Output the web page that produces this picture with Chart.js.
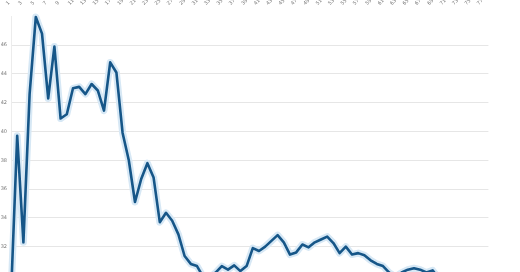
<!DOCTYPE html>
<html>
<head>
<meta charset="utf-8">
<script src="https://cdn.jsdelivr.net/npm/chart.js@4/dist/chart.umd.min.js"></script>
<style>
    html, body { margin: 0; padding: 0; background: #ffffff; overflow: hidden; }
    #wrap { width: 520px; height: 272px; overflow: hidden; }
</style>
</head>
<body>
<div id="wrap"><canvas id="line-chart" width="520" height="340"></canvas></div>
<script>
const labels = [
    '1', '2', '3', '4', '5', '6', '7', '8', '9', '10',
    '11', '12', '13', '14', '15', '16', '17', '18', '19', '20',
    '21', '22', '23', '24', '25', '26', '27', '28', '29', '30',
    '31', '32', '33', '34', '35', '36', '37', '38', '39', '40',
    '41', '42', '43', '44', '45', '46', '47', '48', '49', '50',
    '51', '52', '53', '54', '55', '56', '57', '58', '59', '60',
    '61', '62', '63', '64', '65', '66', '67', '68', '69', '70',
    '71', '72', '73', '74', '75', '76', '77', '78',
];

const values = [
    28.6, 39.7, 32.3, 42.6, 47.95, 46.8, 42.3, 45.9, 40.9, 41.2,
    43.0, 43.1, 42.6, 43.3, 42.85, 41.45, 44.8, 44.1, 39.9, 38.0,
    35.1, 36.7, 37.8, 36.8, 33.7, 34.35, 33.8, 32.85, 31.35, 30.8,
    30.65, 29.9, 29.8, 30.2, 30.65, 30.4, 30.7, 30.3, 30.65, 31.9,
    31.7, 32.0, 32.4, 32.8, 32.3, 31.45, 31.6, 32.15, 31.95, 32.3,
    32.5, 32.7, 32.25, 31.55, 32.0, 31.45, 31.55, 31.4, 31.05, 30.8,
    30.65, 30.2, 29.9, 30.2, 30.4, 30.5, 30.4, 30.2, 30.35, 29.8,
    29.5, 29.3, 29.6, 29.2, 29.0, 28.8, 29.1, 28.7,
];

const yTicks = { min: 26, max: 47.99, step: 2 };

const LINE_COLOR = '#165688';
const HALO_COLOR = '#d7e8f5';
const GRID_COLOR = '#e6e6e6';
const TICK_COLOR = '#777777';

function buildChart() {
    const ctx = document.getElementById('line-chart').getContext('2d');
    return new Chart(ctx, {
        type: 'line',
        data: {
            labels,
            datasets: [
                {
                    label: 'value',
                    data: values,
                    order: 1,
                    borderColor: LINE_COLOR,
                    borderWidth: 2.6,
                    borderJoinStyle: 'round',
                    tension: 0,
                    pointRadius: 0,
                    clip: false,
                },
                {
                    label: 'halo',
                    data: values,
                    order: 2,
                    borderColor: HALO_COLOR,
                    borderWidth: 7,
                    borderJoinStyle: 'round',
                    borderCapStyle: 'round',
                    tension: 0,
                    pointRadius: 0,
                    clip: false,
                },
            ],
        },
        options: {
            responsive: false,
            animation: false,
            layout: { padding: { top: 0, right: 31.6, bottom: 6.2, left: 0 } },
            plugins: {
                legend: { display: false },
                tooltip: { enabled: false },
            },
            scales: {
                x: {
                    position: 'top',
                    offset: false,
                    grid: { display: false },
                    border: { display: false },
                    ticks: {
                        color: TICK_COLOR,
                        font: { family: 'DejaVu Sans', size: 5 },
                        maxRotation: 45,
                        minRotation: 45,
                        autoSkip: true,
                        autoSkipPadding: 2,
                        padding: 2,
                    },
                    afterFit: (scale) => { scale.height = 16.5; },
                },
                y: {
                    min: yTicks.min,
                    max: yTicks.max,
                    grid: { color: GRID_COLOR, drawTicks: false },
                    border: { display: true, color: '#ececec' },
                    ticks: {
                        stepSize: yTicks.step,
                        includeBounds: false,
                        color: TICK_COLOR,
                        font: { family: 'DejaVu Sans', size: 5 },
                        padding: 4,
                    },
                    afterFit: (scale) => { scale.width = 11; },
                },
            },
        },
    });
}

buildChart();
</script>
</body>
</html>
